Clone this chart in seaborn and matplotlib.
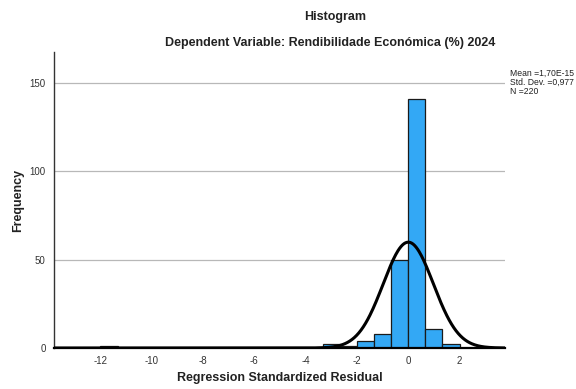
import numpy as np
import pandas as pd
import matplotlib
matplotlib.use("Agg")
import matplotlib.pyplot as plt
import seaborn as sns

# Data
bin_centers = [-11.667, -3.0, -2.333, -1.667, -1.0, -0.333, 0.333, 1.0, 1.667]
bin_counts = [1, 2, 1, 4, 8, 50, 141, 11, 2]
bin_width = 2 / 3
bin_start, bin_end = -12, 2
mean_val, sd_val, n_val = 0.0, 0.977, 220
x_ticks = [-12, -10, -8, -6, -4, -2, 0, 2]
y_ticks = [0, 50, 100, 150]

sns.set_theme(style="white")
plt.rcParams['font.family'] = ['Liberation Sans', 'DejaVu Sans']
plt.rcParams['axes.unicode_minus'] = False

fig = plt.figure(figsize=(5.76, 3.89), dpi=100)
ax = fig.add_axes([0.09375, 0.1054, 0.7830, 0.7609])

df = pd.DataFrame({"x": bin_centers, "w": bin_counts})
sns.histplot(data=df, x="x", weights="w", binwidth=bin_width,
             binrange=(bin_start, bin_end), color="#33A8F5", alpha=1,
             edgecolor="#1a1a1a", linewidth=0.9, ax=ax, zorder=3)

# Normal curve
xs = np.linspace(-13.8, 3.8, 600)
ys = n_val * bin_width / (sd_val * np.sqrt(2 * np.pi)) * np.exp(-0.5 * ((xs - mean_val) / sd_val) ** 2)
sns.lineplot(x=xs, y=ys, color="black", linewidth=2.2, ax=ax, zorder=4)

ax.set_xlim(-13.81, 3.77)
ax.set_ylim(0, 167.5)
ax.set_xticks(x_ticks)
ax.set_yticks(y_ticks)
ax.tick_params(axis="both", length=0, labelsize=7, colors="#333333", pad=6)
for y in y_ticks[1:]:
    ax.axhline(y, color="#b8b8b8", linewidth=0.9, zorder=1)

for s in ["top", "right"]:
    ax.spines[s].set_visible(False)
ax.spines["left"].set_color("#333333")
ax.spines["left"].set_linewidth(1.0)
ax.spines["bottom"].set_color("black")
ax.spines["bottom"].set_linewidth(1.6)
ax.spines["bottom"].set_zorder(5)

ax.set_xlabel("Regression Standardized Residual", fontsize=9, fontweight="bold", color="#222222", va="center")
ax.set_ylabel("Frequency", fontsize=9, fontweight="bold", color="#222222", va="center")
ax.xaxis.set_label_coords(0.5, -0.101)
ax.yaxis.set_label_coords(-0.080, 0.5)

fig.text(335 / 576, 1 - 17 / 389, "Histogram", ha="center", va="center",
         fontsize=9, fontweight="bold", color="#222222")
fig.text(330 / 576, 1 - 43 / 389, "Dependent Variable: Rendibilidade Económica (%) 2024",
         ha="center", va="center", fontsize=9, fontweight="bold", color="#222222")
fig.text(510 / 576, 1 - 69 / 389,
         "Mean =1,70E-15\nStd. Dev. =0,977\nN =220",
         ha="left", va="top", fontsize=6.2, color="#222222", linespacing=1.0)

fig.savefig("out.png", dpi=100)
